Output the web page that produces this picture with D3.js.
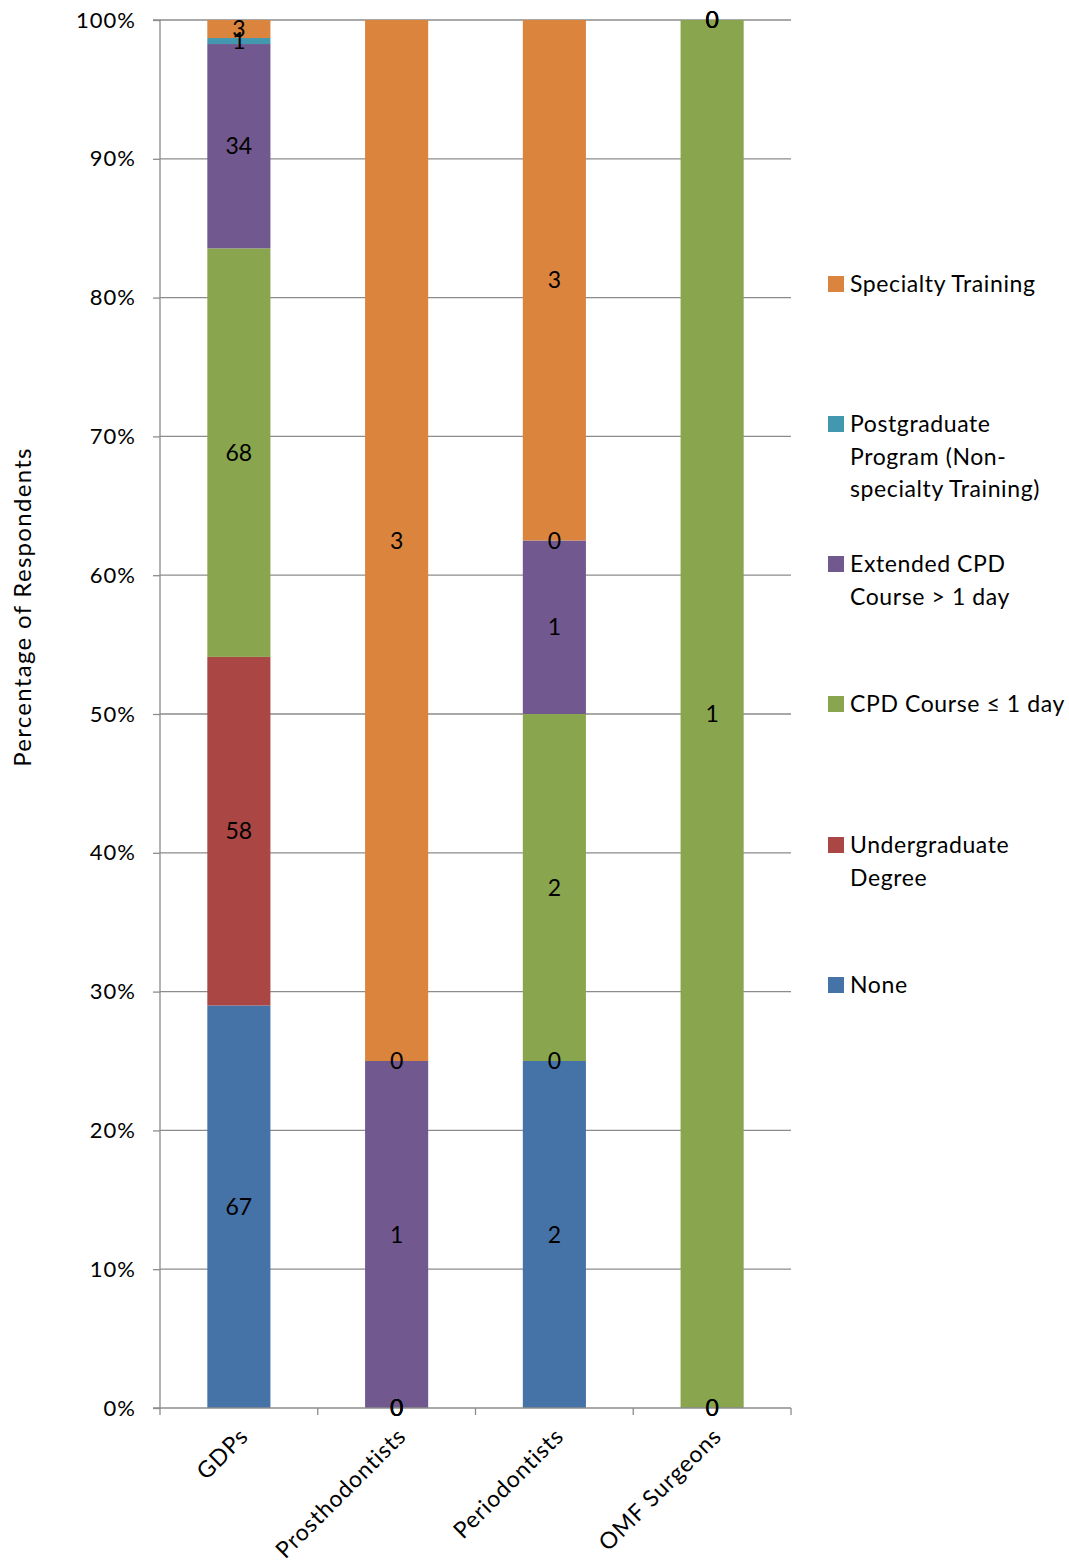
<!DOCTYPE html>
<html>
<head>
<meta charset="utf-8">
<script src="https://cdn.jsdelivr.net/npm/d3@7"></script>
<style>
  body { margin: 0; background: #fff; }
  svg text { font-family: Lato, "Open Sans", sans-serif; fill: #000; }
</style>
</head>
<body>
<svg id="chart" width="1069" height="1565"></svg>
<script>
// Respondent groups along the x axis
const categories = ["GDPs", "Prosthodontists", "Periodontists", "OMF Surgeons"];

// Highest level of training, stacked bottom to top
const seriesNames = [
  "None",
  "Undergraduate Degree",
  "CPD Course \u2264 1 day",
  "Extended CPD Course > 1 day",
  "Postgraduate Program (Non-specialty Training)",
  "Specialty Training"
];

// Respondent counts per series, one value per category
const none          = [67, 0, 2, 0];
const undergraduate = [58, 0, 0, 0];
const cpdShort      = [68, 0, 2, 1];
const cpdExtended   = [34, 1, 1, 0];
const postgraduate  = [1, 0, 0, 0];
const specialty     = [3, 3, 3, 0];

const yTicks = [0, 0.1, 0.2, 0.3, 0.4, 0.5, 0.6, 0.7, 0.8, 0.9, 1];

// Legend rows, top to bottom
const legendLines = [
  ["Specialty Training"],
  ["Postgraduate", "Program (Non-", "specialty Training)"],
  ["Extended CPD", "Course > 1 day"],
  ["CPD Course \u2264 1 day"],
  ["Undergraduate", "Degree"],
  ["None"]
];
const legendKeys = [5, 4, 3, 2, 1, 0];

const colors = ["#4572A7", "#AA4643", "#89A54E", "#71588F", "#4198AF", "#DB843D"];

const seriesValues = [none, undergraduate, cpdShort, cpdExtended, postgraduate, specialty];
const rows = categories.map((c, i) => {
  const r = { category: c };
  seriesNames.forEach((s, k) => r[s] = seriesValues[k][i]);
  return r;
});

const stack = d3.stack().keys(seriesNames).offset(d3.stackOffsetExpand);
const layers = stack(rows);

const svg = d3.select("#chart");
const plot = { left: 160, right: 791, top: 20, bottom: 1408 };

const x = d3.scaleBand().domain(categories).range([plot.left, plot.right]).paddingInner(0.6).paddingOuter(0.3);
const xOuter = d3.scaleBand().domain(categories).range([plot.left, plot.right]);
const y = d3.scaleLinear().domain([0, 1]).range([plot.bottom, plot.top]);

// Horizontal gridlines
svg.append("g")
  .selectAll("line")
  .data(yTicks.filter(t => t > 0))
  .join("line")
  .attr("x1", plot.left).attr("x2", plot.right)
  .attr("y1", d => y(d)).attr("y2", d => y(d))
  .attr("stroke", "#8c8c8c").attr("stroke-width", 1.3);

// Stacked bars
svg.append("g")
  .selectAll("g")
  .data(layers)
  .join("g")
  .attr("fill", (d, i) => colors[i])
  .selectAll("rect")
  .data(d => d)
  .join("rect")
  .attr("x", d => x(d.data.category))
  .attr("width", x.bandwidth())
  .attr("y", d => y(d[1]))
  .attr("height", d => y(d[0]) - y(d[1]));

// Y axis
const yAxis = d3.axisLeft(y).tickValues(yTicks).tickFormat(d3.format(".0%")).tickSize(7).tickPadding(17);
const gy = svg.append("g").attr("transform", `translate(${plot.left},0)`).call(yAxis);
gy.select(".domain").attr("stroke", "#8c8c8c").attr("stroke-width", 1.3).attr("d", `M-7,${plot.top}H0V${plot.bottom}H-7`);
gy.selectAll(".tick line").attr("stroke", "#8c8c8c").attr("stroke-width", 1.3);
gy.selectAll(".tick text")
  .attr("font-size", 22).attr("letter-spacing", 1)
  .attr("font-family", "Lato, sans-serif").attr("fill", "#000");

// X axis line with boundary ticks
const bounds = categories.map(c => xOuter(c)).concat([plot.right]);
svg.append("line")
  .attr("x1", plot.left).attr("x2", plot.right)
  .attr("y1", plot.bottom).attr("y2", plot.bottom)
  .attr("stroke", "#8c8c8c").attr("stroke-width", 1.3);
svg.append("g").selectAll("line").data(bounds).join("line")
  .attr("x1", d => d).attr("x2", d => d)
  .attr("y1", plot.bottom).attr("y2", plot.bottom + 7)
  .attr("stroke", "#8c8c8c").attr("stroke-width", 1.3);

// Category labels, rotated
svg.append("g").selectAll("text").data(categories).join("text")
  .attr("transform", d => `translate(${x(d) + x.bandwidth() / 2 + 5},${plot.bottom + 24}) rotate(-45)`)
  .attr("text-anchor", "end")
  .attr("dy", "0.35em")
  .attr("font-size", 23)
  .attr("letter-spacing", 0.9)
  .text(d => d);

// Value labels centred in each segment
svg.append("g")
  .selectAll("g")
  .data(layers)
  .join("g")
  .selectAll("text")
  .data(d => d)
  .join("text")
  .attr("x", d => x(d.data.category) + x.bandwidth() / 2)
  .attr("y", d => y((d[0] + d[1]) / 2))
  .attr("dy", "0.35em")
  .attr("text-anchor", "middle")
  .attr("font-size", 23)
  .text((d, i, nodes) => d.data[d3.select(nodes[i].parentNode).datum().key]);

// Y axis title
svg.append("text")
  .attr("transform", "translate(31,607) rotate(-90)")
  .attr("text-anchor", "middle")
  .attr("font-size", 24)
  .attr("letter-spacing", 1.3)
  .text("Percentage of Respondents");

// Legend
const legendTop = [284, 424, 564, 704, 845, 985];
const lg = svg.append("g");
legendLines.forEach((lines, i) => {
  const g = lg.append("g").attr("transform", `translate(828,${legendTop[i]})`);
  g.append("rect").attr("x", 0).attr("y", -8).attr("width", 16).attr("height", 16).attr("fill", colors[legendKeys[i]]);
  g.append("text")
    .attr("x", 22)
    .attr("font-size", 23)
    .attr("letter-spacing", 0.6)
    .selectAll("tspan").data(lines).join("tspan")
    .attr("x", 22)
    .attr("y", (d, j) => j * 32.5)
    .attr("dy", "0.35em")
    .text(d => d);
});
</script>
</body>
</html>
